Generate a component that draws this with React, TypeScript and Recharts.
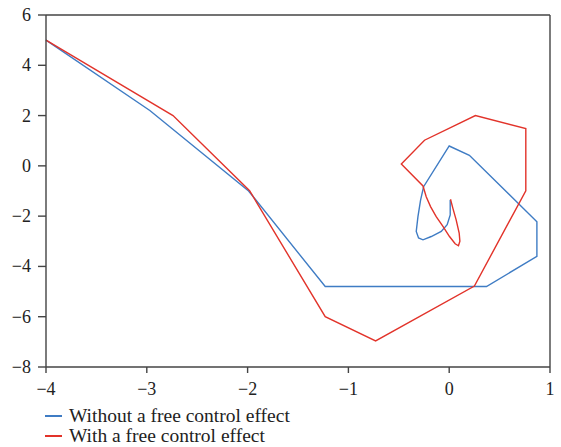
import { LineChart, Line, XAxis, YAxis, ReferenceLine } from "recharts";

// trajectory without the free control effect (x, y)
const blueX = [-4, -2.97, -1.99, -1.23, 0.37, 0.87, 0.87, 0.2, 0.0, -0.254, -0.284, -0.31, -0.327, -0.304, -0.26, -0.178, -0.079, -0.02, 0.01, 0.01];
const blueY = [5, 2.2, -1.0, -4.8, -4.8, -3.6, -2.22, 0.42, 0.79, -0.83, -1.36, -2.02, -2.61, -2.87, -2.94, -2.81, -2.61, -2.34, -1.95, -1.36];

// trajectory with the free control effect (x, y)
const redX = [-4, -2.74, -1.98, -1.23, -0.73, 0.25, 0.76, 0.76, 0.26, -0.245, -0.475, -0.26, -0.228, -0.185, -0.129, -0.062, 0.003, 0.059, 0.092, 0.106, 0.099, 0.069, 0.036, 0.013];
const redY = [5, 2.0, -0.99, -6.0, -6.96, -4.78, -0.99, 1.48, 2.0, 1.02, 0.07, -0.8, -1.23, -1.62, -2.02, -2.41, -2.81, -3.1, -3.18, -3.0, -2.67, -2.15, -1.68, -1.33];

const xTicks = [-4, -3, -2, -1, 0, 1];
const yTicks = [-8, -6, -4, -2, 0, 2, 4, 6];

const legendItems = [
  { name: "Without a free control effect", color: "#3f7cc4" },
  { name: "With a free control effect", color: "#e2332a" },
];

const blueData = blueX.map((x, i) => ({ x, y: blueY[i] }));
const redData = redX.map((x, i) => ({ x, y: redY[i] }));

const FONT = "Liberation Serif";
const AXIS = "#444";

const fmt = (v: number) => String(v).replace("-", "\u2212");
const axisStroke = { stroke: AXIS, strokeWidth: 1.4 };

function renderXTick({ x, y, payload }: any) {
  return (
    <text x={x} y={y + 20} textAnchor="middle" style={{ fontFamily: FONT, fontSize: 18, fill: "#222" }}>
      {fmt(payload.value)}
    </text>
  );
}

function renderYTick({ x, y, payload }: any) {
  return (
    <text x={x - 5} y={y + 6} textAnchor="end" style={{ fontFamily: FONT, fontSize: 18, fill: "#222" }}>
      {fmt(payload.value)}
    </text>
  );
}

export default function App() {
  return (
    <div style={{ position: "absolute", left: 0, top: 0, width: 561, height: 447, background: "#fff", fontFamily: FONT }}>
      <LineChart width={561} height={400} margin={{ top: 15, right: 11, left: 0, bottom: 0 }} style={{ fontFamily: FONT }}>
        <XAxis
          dataKey="x"
          type="number"
          domain={[-4, 1]}
          ticks={xTicks}
          tick={renderXTick}
          axisLine={axisStroke}
          tickLine={axisStroke}
          tickSize={6}
          height={33}
          allowDuplicatedCategory={false}
        />
        <YAxis
          type="number"
          domain={[-8, 6]}
          ticks={yTicks}
          tick={renderYTick}
          axisLine={axisStroke}
          tickLine={axisStroke}
          tickSize={8}
          width={46}
        />
        <ReferenceLine y={6} stroke={AXIS} strokeWidth={1.4} />
        <ReferenceLine x={1} stroke={AXIS} strokeWidth={1.4} />
        <Line data={blueData} dataKey="y" type="linear" stroke={legendItems[0].color} strokeWidth={1.4} dot={false} isAnimationActive={false} />
        <Line data={redData} dataKey="y" type="linear" stroke={legendItems[1].color} strokeWidth={1.4} dot={false} isAnimationActive={false} />
      </LineChart>
      <div style={{ position: "absolute", left: 45, top: 406, fontSize: 19.5, color: "#222", lineHeight: "20px" }}>
        {legendItems.map((item) => (
          <div key={item.name} style={{ display: "flex", alignItems: "center" }}>
            <span style={{ display: "inline-block", width: 17, height: 2, background: item.color, marginRight: 7 }} />
            {item.name}
          </div>
        ))}
      </div>
    </div>
  );
}
